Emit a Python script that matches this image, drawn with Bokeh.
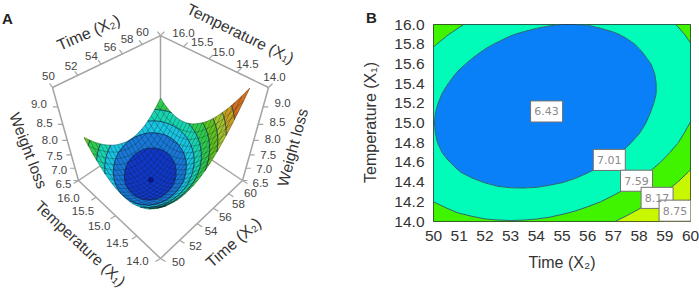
import numpy as np
from bokeh.core.properties import value
from bokeh.embed import file_html
from bokeh.layouts import row
from bokeh.models import ColumnDataSource, FixedTicker, Range1d
from bokeh.plotting import figure
from bokeh.plotting.contour import contour_data
from bokeh.resources import INLINE

time_grid = [50.0, 50.5, 51.0, 51.5, 52.0, 52.5, 53.0, 53.5, 54.0, 54.5, 55.0, 55.5, 56.0, 56.5, 57.0, 57.5, 58.0, 58.5, 59.0, 59.5, 60.0]
temp_grid = [14.0, 14.1, 14.2, 14.3, 14.4, 14.5, 14.6, 14.7, 14.8, 14.9, 15.0, 15.1, 15.2, 15.3, 15.4, 15.5, 15.6, 15.7, 15.8, 15.9, 16.0]
weight_loss = [
    [7.92,7.82,7.75,7.69,7.64,7.62,7.61,7.62,7.64,7.68,7.74,7.82,7.91,8.03,8.15,8.30,8.46,8.64,8.84,9.05,9.28],
    [7.74,7.65,7.56,7.50,7.45,7.42,7.41,7.41,7.44,7.47,7.53,7.60,7.69,7.80,7.93,8.07,8.23,8.40,8.59,8.80,9.03],
    [7.59,7.49,7.40,7.33,7.28,7.25,7.23,7.23,7.25,7.28,7.34,7.41,7.49,7.59,7.72,7.85,8.01,8.18,8.37,8.58,8.80],
    [7.45,7.35,7.26,7.19,7.13,7.09,7.07,7.07,7.08,7.11,7.16,7.23,7.31,7.41,7.52,7.66,7.81,7.98,8.16,8.36,8.58],
    [7.34,7.22,7.13,7.06,7.00,6.95,6.93,6.92,6.93,6.96,7.00,7.06,7.14,7.24,7.35,7.48,7.63,7.79,7.97,8.17,8.39],
    [7.24,7.12,7.02,6.94,6.88,6.84,6.81,6.80,6.80,6.82,6.86,6.92,7.00,7.09,7.20,7.32,7.47,7.63,7.80,8.00,8.21],
    [7.16,7.04,6.94,6.85,6.79,6.74,6.70,6.69,6.69,6.71,6.74,6.80,6.87,6.96,7.06,7.18,7.32,7.48,7.65,7.84,8.05],
    [7.09,6.97,6.87,6.78,6.71,6.65,6.62,6.60,6.60,6.61,6.64,6.69,6.76,6.84,6.94,7.06,7.20,7.35,7.52,7.70,7.91],
    [7.05,6.92,6.82,6.73,6.65,6.59,6.55,6.53,6.52,6.53,6.56,6.60,6.67,6.75,6.84,6.96,7.09,7.24,7.41,7.58,7.79],
    [7.03,6.89,6.79,6.69,6.61,6.55,6.50,6.48,6.46,6.47,6.50,6.53,6.60,6.67,6.76,6.88,7.00,7.15,7.31,7.48,7.69],
    [7.02,6.88,6.77,6.67,6.59,6.52,6.47,6.45,6.42,6.43,6.45,6.48,6.55,6.61,6.70,6.81,6.93,7.08,7.23,7.40,7.60],
    [7.03,6.89,6.77,6.67,6.59,6.51,6.46,6.43,6.40,6.41,6.42,6.45,6.52,6.57,6.66,6.76,6.88,7.03,7.17,7.34,7.53],
    [7.06,6.92,6.79,6.69,6.60,6.52,6.47,6.43,6.40,6.41,6.41,6.44,6.50,6.55,6.64,6.73,6.85,6.99,7.13,7.30,7.48],
    [7.11,6.96,6.83,6.72,6.63,6.55,6.49,6.45,6.42,6.41,6.42,6.45,6.49,6.55,6.63,6.72,6.84,6.96,7.11,7.27,7.45],
    [7.18,7.03,6.89,6.78,6.68,6.60,6.54,6.49,6.46,6.45,6.45,6.47,6.51,6.57,6.64,6.73,6.84,6.96,7.11,7.27,7.44],
    [7.26,7.11,6.97,6.85,6.75,6.67,6.60,6.55,6.51,6.50,6.50,6.52,6.55,6.60,6.67,6.76,6.86,6.98,7.12,7.28,7.45],
    [7.37,7.21,7.07,6.95,6.84,6.75,6.68,6.62,6.59,6.57,6.56,6.58,6.61,6.66,6.72,6.81,6.90,7.02,7.16,7.31,7.48],
    [7.49,7.33,7.19,7.06,6.95,6.85,6.78,6.72,6.68,6.65,6.65,6.66,6.68,6.73,6.79,6.87,6.97,7.08,7.21,7.36,7.52],
    [7.63,7.47,7.32,7.19,7.07,6.98,6.90,6.83,6.79,6.76,6.75,6.76,6.78,6.82,6.88,6.95,7.04,7.15,7.28,7.42,7.58],
    [7.79,7.62,7.47,7.34,7.22,7.12,7.03,6.97,6.92,6.89,6.87,6.87,6.89,6.93,6.98,7.05,7.14,7.25,7.37,7.51,7.66],
    [7.97,7.80,7.64,7.50,7.38,7.28,7.19,7.12,7.07,7.03,7.01,7.01,7.02,7.06,7.11,7.17,7.26,7.36,7.48,7.61,7.76],
]
time_ticks = [50, 52, 54, 56, 58, 60]
temp_ticks = [16.0, 15.5, 15.0, 14.5, 14.0]
loss_ticks = [6.5, 7.0, 7.5, 8.0, 8.5, 9.0]
ring_levels = [6.3, 6.72, 7.0, 7.25, 7.5, 7.8, 8.1, 8.4, 8.7, 9.4]
ring_colors = ["#1038c8", "#1878d8", "#18c4e0", "#18d4b0", "#30cc50", "#60c420", "#a4c430", "#c8a020", "#d07020"]
ring_lines = [6.72, 7.0, 7.25, 7.5, 7.8, 8.1, 8.4, 8.7]
map_levels = [6.0, 7.01, 7.59, 8.17, 8.75, 9.6]
map_colors = ["#0a80f8", "#00fcb8", "#40f400", "#c8f800", "#f0f000"]
map_labels = ["6.43", "7.01", "7.59", "8.17", "8.75"]
label_time = [54.4, 56.84, 57.9, 58.7, 59.4]
label_temp = [15.117, 14.625, 14.414, 14.24, 14.11]
x_ticks = [50, 51, 52, 53, 54, 55, 56, 57, 58, 59, 60]
y_ticks = [14.0, 14.2, 14.4, 14.6, 14.8, 15.0, 15.2, 15.4, 15.6, 15.8, 16.0]

FONT = "Liberation Sans"
Z = np.array(weight_loss)
X = np.array(time_grid)
Y = np.array(temp_grid)


def norm(time, temp, loss):
    a = (np.asarray(time, float) - 50) / 10
    b = (np.asarray(temp, float) - 14) / 2
    c = (np.asarray(loss, float) - 6.5) / 3
    return a - b, a + b - 1, c


def box_xy(time, temp, loss):
    s, t, c = norm(time, temp, loss)
    w = 1 + 0.173 * t - 0.241 * c
    return 160 + 82 * s / w, (180 - 33.3 * t - 114 * c) / w


def surf_xy(time, temp, loss):
    s, t, c = norm(time, temp, loss)
    w = 1 + 0.17 * t - 0.28 * c
    return 160 + 66 * s / w, (178 - 24 * t - 122 * c) / w


pa = figure(width=380, height=294, x_range=Range1d(0, 380), y_range=Range1d(294, 0),
            x_axis_type=None, y_axis_type=None, toolbar_location=None, output_backend="svg",
            min_border=0, outline_line_color=None, frame_align=False)
pa.grid.visible = False

edges = [((50, 16, 9.5), (60, 16, 9.5)), ((60, 16, 9.5), (60, 14, 9.5)), ((50, 16, 9.5), (50, 16, 6.5)),
         ((60, 14, 9.5), (60, 14, 6.5)), ((50, 16, 6.5), (50, 14, 6.5)), ((50, 14, 6.5), (60, 14, 6.5)),
         ((60, 16, 9.5), (60, 16, 6.5)), ((50, 16, 6.5), (60, 16, 6.5)), ((60, 14, 6.5), (60, 16, 6.5))]
ex, ey = [], []
for e0, e1 in edges:
    x0, y0 = box_xy(*e0)
    x1, y1 = box_xy(*e1)
    ex.append([float(x0), float(x1)])
    ey.append([float(y0), float(y1)])
pa.multi_line(ex, ey, line_color="#a4a4a4", line_width=1.5)


def axis_ticks(tv, tp, ls, labels, off0, off1, tick):
    xs, ys = box_xy(tv, tp, ls)
    n = len(labels)
    f = np.linspace(0, 1, n)
    lx = xs + off0[0] + (off1[0] - off0[0]) * f
    ly = ys + off0[1] + (off1[1] - off0[1]) * f
    pa.segment(xs, ys, xs + tick[0], ys + tick[1], line_color="#a4a4a4", line_width=1.2)
    pa.text(lx, ly, text=labels, text_font=value(FONT), text_font_size="11.5px", text_color="#444444",
            text_align="center", text_baseline="middle")


nT = len(time_ticks)
nP = len(temp_ticks)
nL = len(loss_ticks)
fmt1 = [f"{v:.1f}" for v in temp_ticks]
fmtL = [f"{v:.1f}" for v in loss_ticks]
fmtT = [str(v) for v in time_ticks]
axis_ticks(time_ticks, [16] * nT, [9.5] * nT, fmtT, (-4, -11), (-18, -4), (-3, -4))
axis_ticks([60] * nP, temp_ticks, [9.5] * nP, fmt1, (23, -3), (6, -10), (4, -4))
axis_ticks([50] * nL, [16] * nL, loss_ticks, fmtL, (-15, 3), (-19, -3), (-5, 0))
axis_ticks([60] * nL, [14] * nL, loss_ticks, fmtL, (18, 2), (19.5, -4), (5, 0))
axis_ticks([50] * nP, temp_ticks, [6.5] * nP, fmt1, (-10, 17), (-23, 3), (-5, 3))
axis_ticks(time_ticks, [14] * nT, [6.5] * nT, fmtT, (18, 4), (8, 12), (5, 3))


def surface_height(cx, cy):
    fx = np.clip((np.asarray(cx) - X[0]) / (X[1] - X[0]), 0, len(X) - 1.0001)
    fy = np.clip((np.asarray(cy) - Y[0]) / (Y[1] - Y[0]), 0, len(Y) - 1.0001)
    i = fx.astype(int)
    j = fy.astype(int)
    dx = fx - i
    dy = fy - j
    return (Z[j, i] * (1 - dx) * (1 - dy) + Z[j, i + 1] * dx * (1 - dy)
            + Z[j + 1, i] * (1 - dx) * dy + Z[j + 1, i + 1] * dx * dy)


def project_nested(xs, ys):
    px, py = [], []
    for pxs, pys in zip(xs, ys):
        qx, qy = [], []
        for rxs, rys in zip(pxs, pys):
            kx, ky = [], []
            for cx, cy in zip(rxs, rys):
                sx, sy = surf_xy(cx, cy, surface_height(cx, cy))
                kx.append(sx)
                ky.append(sy)
            qx.append(kx)
            qy.append(ky)
        px.append(qx)
        py.append(qy)
    return px, py


bands = contour_data(X, Y, Z, ring_levels, want_fill=True, want_line=False).fill_data
bx, by = project_nested(bands.xs, bands.ys)
src = ColumnDataSource(dict(xs=bx[::-1], ys=by[::-1], c=ring_colors[::-1]))
pa.multi_polygons("xs", "ys", source=src, fill_color="c", line_color="c", line_width=0.5)

mx, my = [], []
for j in range(len(Y)):
    a, b = surf_xy(X, np.full_like(X, Y[j]), Z[j])
    mx.append(a)
    my.append(b)
for i in range(len(X)):
    a, b = surf_xy(np.full_like(Y, X[i]), Y, Z[:, i])
    mx.append(a)
    my.append(b)
pa.multi_line(mx, my, line_color="#101818", line_alpha=0.5, line_width=0.6)

lines = contour_data(X, Y, Z, ring_lines, want_fill=False, want_line=True).line_data
lx, ly = [], []
for xs, ys, lv in zip(lines.xs, lines.ys, ring_lines):
    a, b = surf_xy(xs, ys, np.full_like(xs, lv))
    lx.append(a)
    ly.append(b)
pa.multi_line(lx, ly, line_color="#0c2040", line_alpha=0.8, line_width=0.9)

mnx, mny = surf_xy([54.35], [15.17], [6.4])
pa.scatter(mnx, mny, size=5, fill_color="#081880", line_color="#081880")


def title(x, y, txt, ang, size="15.5px"):
    pa.text([x], [y], text=[txt], angle=[np.radians(ang)], text_font=value(FONT), text_font_size=size,
            text_color="#333333", text_align="center", text_baseline="middle")


title(88, 32, "Time (X\u2082)", 23.5, "16px")
title(240, 33, "Temperature (X\u2081)", -26)
title(28, 150, "Weight loss", -69)
title(292, 147, "Weight loss", 75)
title(80, 243, "Temperature (X\u2081)", -43)
title(233, 242, "Time (X\u2082)", 41, "16px")
title(370, 122, "Temperature (X\u2081)", 90, "16px")
for letter, lx0, ly0 in [("A", 7, 18), ("B", 371, 17)]:
    pa.text([lx0], [ly0], text=[letter], text_font=value(FONT), text_font_size="15px", text_font_style="bold",
            text_color="#222222", text_align="center", text_baseline="middle")

pb = figure(width=319, height=294, x_range=Range1d(50, 60), y_range=Range1d(14, 16),
            toolbar_location=None, output_backend="svg", frame_align=False,
            min_border_left=53, min_border_right=9, min_border_top=24, min_border_bottom=73,
            outline_line_color="#303030", outline_line_width=1)
pb.grid.visible = False
pb.contour(X, Y, Z, map_levels, fill_color=map_colors, line_color="#2a6470", line_width=1)
pb.rect(label_time, label_temp, width=1.245, height=0.214, fill_color="white", line_color="#707070", line_width=1)
pb.text(label_time, label_temp, text=map_labels, text_font=value("DejaVu Sans"), text_font_size="11px",
        text_color="#8a8a8a", text_align="center", text_baseline="middle")
pb.xaxis.ticker = FixedTicker(ticks=x_ticks)
pb.yaxis.ticker = FixedTicker(ticks=y_ticks)
pb.yaxis.major_label_overrides = {v: f"{v:.1f}" for v in y_ticks}
for ax in (pb.xaxis[0], pb.yaxis[0]):
    ax.axis_line_color = None
    ax.major_tick_line_color = None
    ax.minor_tick_line_color = None
    ax.major_label_text_font = FONT
    ax.major_label_text_font_size = "15.5px"
    ax.major_label_text_color = "#333333"
    ax.major_label_standoff = 3
    ax.axis_label_text_font = FONT
    ax.axis_label_text_font_size = "16px"
    ax.axis_label_text_font_style = "normal"
    ax.axis_label_text_color = "#333333"
pb.xaxis.axis_label = "Time (X\u2082)"
pb.xaxis.axis_label_standoff = 10

layout = row(pa, pb)
open("out.html", "w").write(file_html(layout, INLINE))
